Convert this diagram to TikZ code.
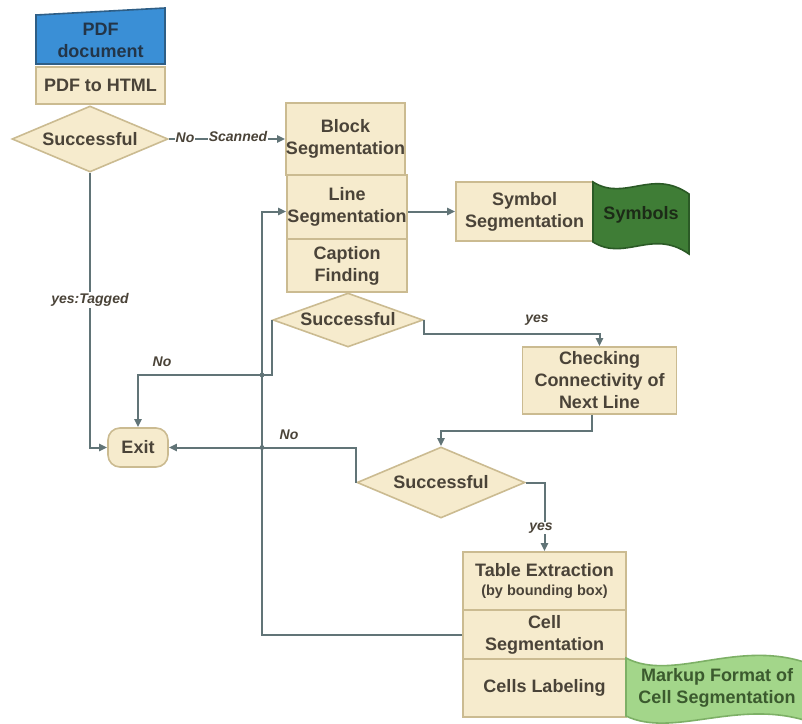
\documentclass[tikz,border=0pt]{standalone}
\usepackage{fontspec}
\setmainfont{Liberation Sans}
\usetikzlibrary{shapes.geometric,arrows.meta}
\definecolor{boxfill}{HTML}{F6EBCD}
\definecolor{boxdraw}{HTML}{CBBB91}
\definecolor{txt}{HTML}{4A4338}
\definecolor{lc}{HTML}{617477}
\definecolor{bluefill}{HTML}{3A8FD6}
\definecolor{bluedraw}{HTML}{2E5E86}
\definecolor{bluetxt}{HTML}{233548}
\definecolor{dgfill}{HTML}{3F7D36}
\definecolor{dgdraw}{HTML}{2B5A26}
\definecolor{dgtxt}{HTML}{1C2B17}
\definecolor{lgfill}{HTML}{A3D68A}
\definecolor{lgdraw}{HTML}{7DB066}
\definecolor{lgtxt}{HTML}{3B5A2E}
\begin{document}
\begin{tikzpicture}[x=1pt,y=-1pt,
  every node/.style={font=\bfseries\fontsize{18}{22}\selectfont, text=txt, align=center, inner sep=0pt},
  proc/.style={rectangle, draw=boxdraw, fill=boxfill, line width=1.6pt},
  dec/.style={diamond, draw=boxdraw, fill=boxfill, line width=1.6pt},
  conn/.style={draw=lc, line width=2pt, -{Triangle[length=8pt,width=7pt]}},
  plain/.style={draw=lc, line width=2pt},
  lab/.style={font=\bfseries\itshape\fontsize{14}{16}\selectfont, text=txt, fill=white, inner sep=1pt}
]
\useasboundingbox (0,0) rectangle (802,723);
\fill[white] (0,0) rectangle (802,723);

% PDF document (manual input shape)
\draw[fill=bluefill, draw=bluedraw, line width=1.6pt] (36,15) -- (165,8) -- (165,64) -- (36,64) -- cycle;
\node[text=bluetxt] (pdfdoc) at (100.5,40.5) {PDF\\document};

% process boxes
\node[proc, minimum width=129, minimum height=37] (pdf2html) at (100.5,85.5) {PDF to HTML};
\node[proc, minimum width=116, minimum height=72] (block) at (345.5,139) {Block\\Segmentation};
\node[proc, minimum width=120, minimum height=64] (line) at (347,207) {Line\\Segmentation};
\node[proc, minimum width=120, minimum height=53] (caption) at (347,265.5) {Caption\\Finding};
\node[proc, minimum width=137, minimum height=59] (sym) at (524.5,211.5) {Symbol\\Segmentation};
\node[proc, minimum width=154, minimum height=67] (check) at (599.5,380.5) {Checking\\Connectivity of\\Next Line};
\node[proc, minimum width=163, minimum height=58] (table) at (544.5,581) {Table Extraction\\[-3pt]{\fontsize{14.5}{17}\selectfont (by bounding box)}};
\node[proc, minimum width=163, minimum height=49] (cellseg) at (544.5,634.5) {Cell\\Segmentation};
\node[proc, minimum width=163, minimum height=58] (labeling) at (544.5,688) {Cells Labeling};
\node[proc, rounded corners=12pt, minimum width=60, minimum height=39] (exit) at (138,447.5) {Exit};

% decisions
\node[dec, minimum width=156, minimum height=66] (d1) at (90,139) {\makebox[0pt]{Successful}};
\node[dec, minimum width=150, minimum height=54] (d2) at (348,320) {\makebox[0pt]{\raisebox{2pt}{Successful}}};
\node[dec, minimum width=168, minimum height=71] (d3) at (441,482.5) {\makebox[0pt]{\raisebox{2pt}{Successful}}};

% Symbols (dark green tape)
\draw[fill=dgfill, draw=dgdraw, line width=1.6pt]
  (593,182) .. controls (625,202) and (652,168) .. (689,194)
  -- (689,254) .. controls (652,228) and (625,262) .. (593,242) -- cycle;
\node[text=dgtxt] (symbols) at (641,215) {Symbols};

% Markup (light green tape)
\draw[fill=lgfill, draw=lgdraw, line width=1.6pt]
  (626,658) .. controls (672,682) and (735,640) .. (804,662)
  -- (804,720) .. controls (735,700) and (672,738) .. (626,716) -- cycle;
\node[text=lgtxt] (markup) at (717,688) {Markup Format of\\Cell Segmentation};

% connectors
\draw[conn] (d1.east) -- (block.west);
\draw[conn] (d1.south) |- (exit.west);
\draw[conn] (line.east |- sym.west) -- (sym.west);
\draw[conn] (d2.east) -- ++(0,14) -| (check.north);
\draw[conn] (d2.west) -- ++(0,55) -| (exit.north);
\draw[conn] ([xshift=-8pt]check.south) -- ++(0,16) -| (d3.north);
\draw[conn] (d3.east) -| (table.north);
\draw[conn] (d3.west) |- (exit.east);
\coordinate (fb) at (262,211.5);
\draw[conn] (cellseg.west) -| (fb) -- (line.west |- fb);

% crossing dots
\coordinate (x1) at (262,375);
\coordinate (x2) at (262,447.5);
\fill[lc] (x1) circle (2.4pt);
\fill[lc] (x2) circle (2.4pt);

% labels
\node[lab] (l1) at (185,138) {No};
\node[lab] (l2) at (238,136) {Scanned};
\node[lab] (l3) at (90,300) {yes:Tagged};
\node[lab, fill=none] (l4) at (537,320) {yes};
\node[lab, fill=none] (l5) at (162,362) {No};
\node[lab] (l6) at (541,528) {yes};
\node[lab, fill=none] (l7) at (289,435) {No};
\end{tikzpicture}
\end{document}
